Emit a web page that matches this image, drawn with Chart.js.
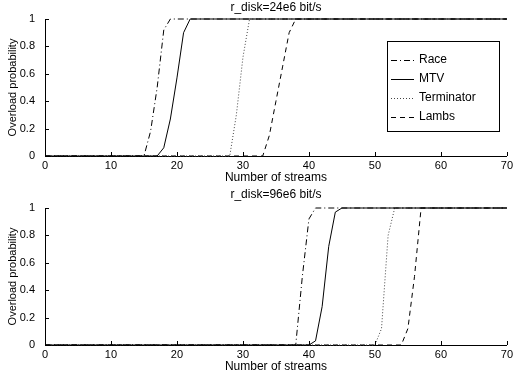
<!DOCTYPE html>
<html>
<head>
<meta charset="utf-8">
<script src="https://cdn.jsdelivr.net/npm/chart.js@4"></script>
<style>
  body { margin: 0; background: #fff; }
  .box { position: absolute; left: 0; width: 516px; height: 189px; }
</style>
</head>
<body>
<div class="box" style="top:0"><canvas id="topChart" width="516" height="189"></canvas></div>
<div class="box" style="top:189px"><canvas id="bottomChart" width="516" height="189"></canvas></div>
<script>
// series names
const seriesNames = ["Race", "MTV", "Terminator", "Lambs"];

// x ticks / y ticks
const xTicks = [0, 10, 20, 30, 40, 50, 60, 70];
const yTicks = [0, 0.2, 0.4, 0.6, 0.8, 1];

// r_disk = 24e6 bit/s
const topTitle = "r_disk=24e6 bit/s";
const topRaceX = [0, 15, 16, 17, 18, 19, 70];
const topRaceY = [0, 0, 0.18, 0.5, 0.92, 1, 1];
const topMtvX = [0, 17, 18, 19, 20, 21, 22, 70];
const topMtvY = [0, 0, 0.06, 0.27, 0.57, 0.9, 1, 1];
const topTermX = [0, 28, 29, 30, 31, 70];
const topTermY = [0, 0, 0.3, 0.72, 1, 1];
const topLambsX = [0, 33, 34, 35, 36, 37, 38, 70];
const topLambsY = [0, 0, 0.15, 0.4, 0.65, 0.9, 1, 1];

// r_disk = 96e6 bit/s
const bottomTitle = "r_disk=96e6 bit/s";
const botRaceX = [0, 38, 39, 40, 41, 70];
const botRaceY = [0, 0, 0.5, 0.92, 1, 1];
const botMtvX = [0, 40, 41, 42, 43, 44, 45, 70];
const botMtvY = [0, 0, 0.03, 0.28, 0.72, 0.97, 1, 1];
const botTermX = [0, 50, 51, 52, 53, 70];
const botTermY = [0, 0, 0.12, 0.8, 1, 1];
const botLambsX = [0, 54, 55, 56, 57, 70];
const botLambsY = [0, 0, 0.12, 0.5, 1, 1];

const FONT = "'Liberation Sans', Arial, Helvetica, sans-serif";
const styles = [
  { borderColor: "#000", borderDash: [6, 3, 1, 3] },
  { borderColor: "#000", borderDash: [] },
  { borderColor: "#444", borderDash: [1, 2] },
  { borderColor: "#000", borderDash: [5, 4] }
];

function pts(xs, ys) {
  return xs.map((x, i) => ({ x: x, y: ys[i] }));
}

// matlab style: ticks pointing inwards + title centred over the axes
const matlabAxes = {
  id: "matlabAxes",
  afterDraw(chart, args, opts) {
    const ctx = chart.ctx;
    const a = chart.chartArea;
    const xs = chart.scales.x, ys = chart.scales.y;
    ctx.save();
    ctx.strokeStyle = "#000";
    ctx.lineWidth = 1;
    ctx.beginPath();
    xTicks.forEach(v => {
      const px = Math.round(xs.getPixelForValue(v)) + 0.5;
      ctx.moveTo(px, a.bottom);
      ctx.lineTo(px, a.bottom - 4);
    });
    yTicks.forEach(v => {
      const py = Math.round(ys.getPixelForValue(v)) + 0.5;
      ctx.moveTo(a.left, py);
      ctx.lineTo(a.left + 4, py);
    });
    ctx.stroke();
    ctx.fillStyle = "#000";
    ctx.font = "12px " + FONT;
    ctx.textAlign = "center";
    ctx.textBaseline = "middle";
    ctx.fillText(opts.title, (a.left + a.right) / 2, opts.titleY);

    if (opts.legend) {
      const L = opts.legend;
      ctx.strokeRect(L.x + 0.5, L.y + 0.5, L.w, L.h);
      ctx.textAlign = "left";
      chart.data.datasets.forEach((ds, i) => {
        const yy = L.y + 19 + i * 19;
        ctx.save();
        ctx.strokeStyle = ds.borderColor;
        ctx.setLineDash(ds.borderDash);
        ctx.beginPath();
        ctx.moveTo(L.x + 4, yy + 0.5);
        ctx.lineTo(L.x + 27, yy + 0.5);
        ctx.stroke();
        ctx.restore();
        ctx.fillText(ds.label, L.x + 32, yy);
      });
    }
    ctx.restore();
  }
};

function makeChart(id, series, opts) {
  new Chart(document.getElementById(id), {
    type: "line",
    data: {
      datasets: series.map((s, i) => ({
        label: seriesNames[i],
        data: pts(s[0], s[1]),
        borderColor: styles[i].borderColor,
        borderDash: styles[i].borderDash,
        borderWidth: 1,
        pointRadius: 0,
        tension: 0,
        fill: false,
        clip: false
      }))
    },
    options: {
      responsive: false,
      animation: false,
      events: [],
      layout: { padding: { left: 0, right: 8, top: opts.top, bottom: 0 } },
      plugins: {
        legend: { display: false },
        tooltip: { enabled: false },
        matlabAxes: opts
      },
      scales: {
        x: {
          type: "linear",
          min: 0, max: 70,
          afterFit: s => { s.height = 33; },
          afterBuildTicks: s => { s.ticks = xTicks.map(v => ({ value: v })); },
          grid: { display: false, drawTicks: false },
          border: { display: true, color: "#000", width: 1 },
          ticks: { color: "#000", font: { family: FONT, size: 11 }, padding: 3, autoSkip: false, maxRotation: 0,
                   callback: v => String(v) },
          title: { display: true, text: "Number of streams", color: "#000", font: { family: FONT, size: 12 }, padding: { top: 0, bottom: 4 } }
        },
        y: {
          min: 0, max: 1,
          afterFit: s => { s.width = 45; },
          afterBuildTicks: s => { s.ticks = yTicks.map(v => ({ value: v })); },
          grid: { display: false, drawTicks: false },
          border: { display: true, color: "#000", width: 1 },
          ticks: { color: "#000", font: { family: FONT, size: 11 }, padding: 10, autoSkip: false,
                   callback: v => String(v) },
          title: { display: true, text: "Overload probability", color: "#000", font: { family: FONT, size: 11 }, padding: { top: 6, bottom: 0 } }
        }
      }
    },
    plugins: [matlabAxes]
  });
}

makeChart("topChart",
  [[topRaceX, topRaceY], [topMtvX, topMtvY], [topTermX, topTermY], [topLambsX, topLambsY]],
  { top: 19, title: topTitle, titleY: 7.5, legend: { x: 387, y: 41, w: 112, h: 90 } });

makeChart("bottomChart",
  [[botRaceX, botRaceY], [botMtvX, botMtvY], [botTermX, botTermY], [botLambsX, botLambsY]],
  { top: 19, title: bottomTitle, titleY: 5.5, legend: null });
</script>
</body>
</html>
